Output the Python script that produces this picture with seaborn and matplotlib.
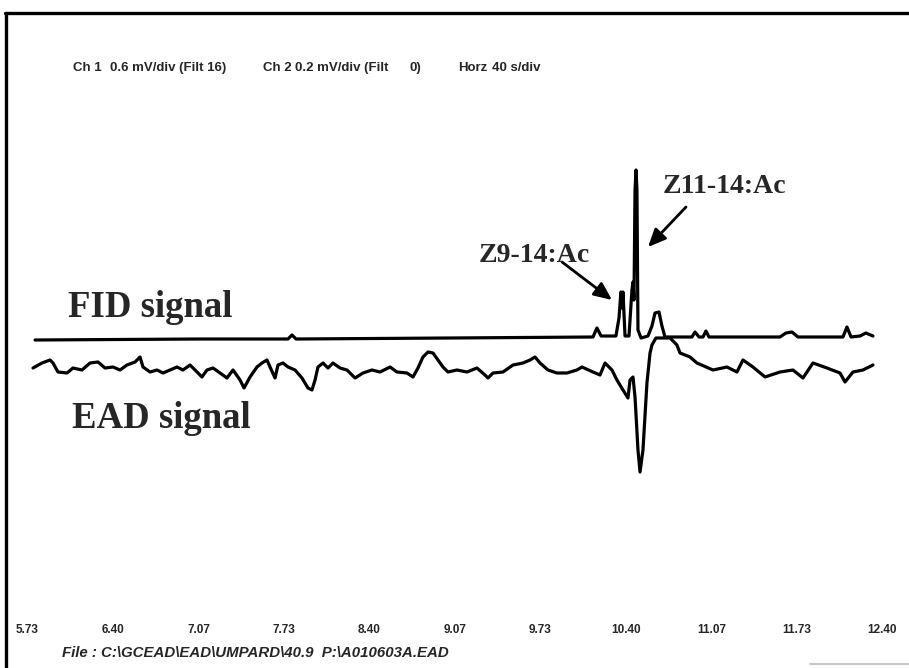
import matplotlib
matplotlib.use("Agg")
import matplotlib.pyplot as plt
from matplotlib.lines import Line2D
import pandas as pd
import seaborn as sns

# Flame ionisation detector trace: retention time (min) and response above baseline
fid_time = [5.792, 7.079, 7.765, 7.796, 7.828, 9.029, 10.144, 10.175, 10.207,
            10.323, 10.347, 10.362, 10.370, 10.378, 10.394, 10.425, 10.448,
            10.456, 10.464, 10.472, 10.480, 10.487, 10.495, 10.519, 10.573,
            10.604, 10.628, 10.659, 10.682, 10.706, 10.916, 10.940, 10.971,
            11.002, 11.025, 11.049, 11.603, 11.649, 11.696, 11.743, 12.094,
            12.125, 12.157, 12.227, 12.273, 12.328]
fid_response = [-0.03, -0.02, -0.02, 0.02, -0.02, -0.01, 0.00, 0.09, 0.01,
                0.01, 0.19, 0.45, 0.29, 0.45, 0.01, 0.01, 0.47,
                0.55, 0.37, 1.47, 1.67, 1.47, 0.07, -0.01, 0.01,
                0.11, 0.24, 0.25, 0.11, 0.00, 0.00, 0.05, 0.00,
                0.00, 0.06, 0.00, 0.00, 0.04, 0.05, 0.00, 0.00,
                0.10, 0.00, 0.01, 0.04, 0.01]

# Antennal (EAD) trace: retention time (min) and depolarisation response
ead_time = [5.776, 5.846, 5.909, 5.932, 5.971, 6.041, 6.088, 6.158, 6.221,
            6.283, 6.338, 6.400, 6.455, 6.509, 6.572, 6.611, 6.634, 6.689,
            6.743, 6.790, 6.845, 6.899, 6.946, 7.001, 7.040, 7.094, 7.133,
            7.180, 7.235, 7.289, 7.336, 7.391, 7.422, 7.469, 7.523, 7.562,
            7.601, 7.625, 7.664, 7.687, 7.726, 7.765, 7.820, 7.874, 7.921,
            7.952, 7.976, 7.999, 8.038, 8.077, 8.116, 8.171, 8.225, 8.288,
            8.350, 8.420, 8.483, 8.561, 8.615, 8.693, 8.740, 8.779, 8.818,
            8.857, 8.896, 8.935, 8.974, 9.013, 9.083, 9.161, 9.239, 9.302,
            9.325, 9.364, 9.442, 9.520, 9.598, 9.653, 9.692, 9.731, 9.793,
            9.863, 9.941, 10.019, 10.058, 10.144, 10.199, 10.238, 10.292,
            10.331, 10.378, 10.417, 10.433, 10.456, 10.472, 10.495, 10.511,
            10.534, 10.565, 10.589, 10.604, 10.635, 10.745, 10.799, 10.823,
            10.901, 10.955, 11.080, 11.189, 11.267, 11.314, 11.392, 11.486,
            11.603, 11.704, 11.782, 11.860, 11.969, 12.071, 12.110, 12.172,
            12.250, 12.328]
ead_response = [0.02, 0.07, 0.10, 0.07, -0.02, -0.03, 0.02, 0.00, 0.07,
                0.08, 0.02, 0.03, 0.00, 0.05, 0.08, 0.13, 0.03, -0.02,
                0.00, -0.03, 0.00, 0.03, 0.00, 0.05, 0.00, -0.07, 0.00,
                0.02, -0.03, -0.08, 0.00, -0.10, -0.18, -0.07, 0.03, 0.07,
                0.10, 0.03, -0.08, 0.05, 0.07, 0.03, 0.00, -0.08, -0.18,
                -0.20, -0.10, 0.03, 0.07, 0.02, 0.07, 0.02, 0.00, -0.08,
                -0.03, 0.00, -0.02, 0.03, -0.02, -0.03, -0.07, 0.02, 0.13,
                0.18, 0.17, 0.10, 0.03, -0.02, 0.00, -0.02, 0.02, -0.05,
                -0.08, -0.03, -0.02, 0.05, 0.07, 0.10, 0.13, 0.07, 0.00,
                -0.03, -0.03, 0.00, 0.03, -0.02, -0.05, 0.07, 0.00,
                -0.10, -0.20, -0.28, -0.10, -0.07, -0.27, -0.80, -1.02,
                -0.80, -0.13, 0.17, 0.25, 0.32, 0.32, 0.25, 0.17,
                0.13, 0.07, 0.00, 0.03, -0.02, 0.10, 0.03, -0.07,
                -0.02, 0.00, -0.08, 0.07, 0.02, -0.03, -0.12, -0.02,
                0.00, 0.05]

tick_times = [5.73, 6.40, 7.07, 7.73, 8.40, 9.07, 9.73, 10.40, 11.07, 11.73, 12.40]
tick_labels = ["5.73", "6.40", "7.07", "7.73", "8.40", "9.07", "9.73",
               "10.40", "11.07", "11.73", "12.40"]

# recorder settings line, split into its printed fields
header_fields = ["Ch 1", "0.6 mV/div (Filt 16)", "Ch 2", "0.2 mV/div (Filt", "0)",
                 "Horz", "40 s/div"]
header_x = [73, 110, 263, 295, 410, 458, 492]
footer = "File : C:\\GCEAD\\EAD\\UMPARD\\40.9  P:\\A010603A.EAD"

# vertical placement of the two channels on the recorder chart
FID_OFFSET = 3.31
EAD_OFFSET = 2.98

sns.set_theme(style="white")
plt.rcParams["font.family"] = ["Liberation Sans", "DejaVu Sans"]

fid = pd.DataFrame({"time": fid_time,
                    "signal": [v + FID_OFFSET for v in fid_response]})
ead = pd.DataFrame({"time": ead_time,
                    "signal": [v + EAD_OFFSET for v in ead_response]})

W, H = 909, 668
fig = plt.figure(figsize=(W / 100, H / 100), dpi=100, facecolor="white")
ax = fig.add_axes([0, 48 / H, 1, (620 - 12) / H])
ax.set_facecolor("white")

sns.lineplot(data=fid, x="time", y="signal", ax=ax, color="black",
             linewidth=2.3, estimator=None, sort=False)
sns.lineplot(data=ead, x="time", y="signal", ax=ax, color="black",
             linewidth=2.3, estimator=None, sort=False)

ax.set_xlim(5.5186, 12.6091)
ax.set_ylim(0.48, 6.56)
ax.set_xlabel("")
ax.set_ylabel("")
ax.set_yticks([])
ax.set_xticks(tick_times)
ax.set_xticklabels(tick_labels, fontsize=8.5, fontweight="bold")
ax.tick_params(axis="x", length=0, pad=3.0)
for s in ax.spines.values():
    s.set_visible(False)

# chart frame
fig.add_artist(Line2D([6 / W, 6 / W], [0, 1 - 13 / H], transform=fig.transFigure,
                      color="black", lw=2.4))
fig.add_artist(Line2D([5 / W, 1], [1 - 13 / H, 1 - 13 / H], transform=fig.transFigure,
                      color="black", lw=2.4))
fig.add_artist(Line2D([810 / W, 1], [1 - 664 / H, 1 - 664 / H], transform=fig.transFigure,
                      color="#bbbbbb", lw=1.2))

# recorder header and file line
for text, x in zip(header_fields, header_x):
    fig.text(x / W, 1 - 68 / H, text, fontsize=9.5, fontweight="bold",
             va="center", ha="left")
fig.text(62 / W, 1 - 653 / H, footer, fontsize=10.8, fontweight="bold", style="italic",
         va="center", ha="left")

serif = ["Liberation Serif", "DejaVu Serif"]
fig.text(68 / W, 1 - 317 / H, "FID signal", family=serif, fontsize=26.5,
         fontweight="bold", va="baseline", ha="left")
fig.text(72 / W, 1 - 428 / H, "EAD signal", family=serif, fontsize=26.5,
         fontweight="bold", va="baseline", ha="left")
fig.text(479 / W, 1 - 262 / H, "Z9-14:Ac", family=serif, fontsize=20,
         fontweight="bold", va="baseline", ha="left")
fig.text(663 / W, 1 - 193 / H, "Z11-14:Ac", family=serif, fontsize=20,
         fontweight="bold", va="baseline", ha="left")

arrow = dict(arrowstyle="-|>,head_length=0.9,head_width=0.4", color="black",
             lw=2.0, mutation_scale=12, shrinkA=0, shrinkB=0)
ax.annotate("", xy=(612 / W, 1 - 300 / H), xytext=(562 / W, 1 - 262 / H),
            xycoords="figure fraction", textcoords="figure fraction", arrowprops=arrow)
ax.annotate("", xy=(648 / W, 1 - 247 / H), xytext=(686 / W, 1 - 207 / H),
            xycoords="figure fraction", textcoords="figure fraction", arrowprops=arrow)

fig.savefig("out.png", dpi=100, facecolor="white")
